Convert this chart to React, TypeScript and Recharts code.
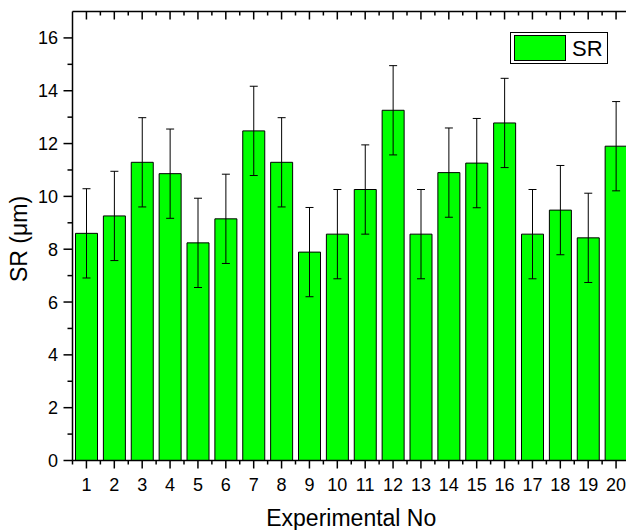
import React from "react";
import { Bar, BarChart, ErrorBar, Legend, XAxis, YAxis } from "recharts";

const EXPERIMENT_NO = ["1", "2", "3", "4", "5", "6", "7", "8", "9", "10", "11", "12", "13", "14", "15", "16", "17", "18", "19", "20"];
const SR = [8.6, 9.26, 11.29, 10.86, 8.24, 9.15, 12.48, 11.29, 7.89, 8.57, 10.26, 13.26, 8.57, 10.9, 11.26, 12.78, 8.57, 9.48, 8.43, 11.9];
const SR_ERR = [1.69, 1.69, 1.69, 1.69, 1.69, 1.69, 1.69, 1.69, 1.69, 1.69, 1.69, 1.69, 1.69, 1.69, 1.69, 1.69, 1.69, 1.69, 1.69, 1.69];
const Y_TICKS = [0, 1, 2, 3, 4, 5, 6, 7, 8, 9, 10, 11, 12, 13, 14, 15, 16];
const Y_DOMAIN: [number, number] = [0, 17];

const data = EXPERIMENT_NO.map((no, i) => ({ no, sr: SR[i], err: SR_ERR[i] }));

const FONT = '"Liberation Sans", Arial, sans-serif';
const CHART_W = 640;
const CHART_H = 530;
const LEFT = 72.5;
const RIGHT_W = 10;
const TOP = 11.5;
const BOTTOM_H = 69.5;
const BAND = (CHART_W - RIGHT_W - LEFT) / EXPERIMENT_NO.length;
const AXIS = { stroke: "#000", strokeWidth: 1.5 };

// left axis: outward ticks, labels on even values
function LeftTick({ x, y, payload }: any) {
  const major = payload.value % 2 === 0;
  return (
    <g>
      <line x1={x - (major ? 9 : 5)} x2={x} y1={y} y2={y} stroke="#000" strokeWidth={1.5} />
      {major && (
        <text x={x - 14.5} y={y} dy="0.36em" textAnchor="end" fontSize={18} fontFamily={FONT} fill="#000">
          {payload.value}
        </text>
      )}
    </g>
  );
}

// right axis: inward ticks, no labels
function RightTick({ x, y, payload }: any) {
  const major = payload.value % 2 === 0;
  return <line x1={x} x2={x - (major ? 9 : 5)} y1={y} y2={y} stroke="#000" strokeWidth={1.5} />;
}

function BottomTick({ x, y, payload, index }: any) {
  return (
    <g>
      <line x1={x} x2={x} y1={y} y2={y + 8} stroke="#000" strokeWidth={1.5} />
      <line x1={x + BAND / 2} x2={x + BAND / 2} y1={y} y2={y + 4} stroke="#000" strokeWidth={1.5} />
      {index === 0 && <line x1={x - BAND / 2} x2={x - BAND / 2} y1={y} y2={y + 4} stroke="#000" strokeWidth={1.5} />}
      <text x={x} y={y + 30} textAnchor="middle" fontSize={18} fontFamily={FONT} fill="#000">
        {payload.value}
      </text>
    </g>
  );
}

function TopTick({ x, y }: any) {
  return (
    <g>
      <line x1={x} x2={x} y1={y} y2={y + 8} stroke="#000" strokeWidth={1.5} />
      <line x1={x + BAND / 2} x2={x + BAND / 2} y1={y} y2={y + 4} stroke="#000" strokeWidth={1.5} />
    </g>
  );
}

function YTitle({ viewBox }: any) {
  const cx = 27;
  const cy = viewBox.y + viewBox.height / 2 + 3;
  return (
    <text x={cx} y={cy} transform={`rotate(-90 ${cx} ${cy})`} textAnchor="middle" fontSize={23} fontFamily={FONT} fill="#000">
      SR (μm)
    </text>
  );
}

function LegendBox() {
  return (
    <svg width={98} height={32} style={{ display: "block" }}>
      <rect x={0.5} y={0.5} width={97} height={31} fill="#fff" stroke="#000" strokeWidth={1} />
      <rect x={4.5} y={3.5} width={51} height={25} fill="#00ff00" stroke="#000" strokeWidth={1} />
      <text x={62} y={24} fontSize={22} fontFamily={FONT} fill="#000">
        SR
      </text>
    </svg>
  );
}

export default function App() {
  return (
    <div style={{ width: 626, height: 530, overflow: "hidden", position: "relative", background: "#fff" }}>
      <style>{"body{margin:0}"}</style>
      <BarChart width={CHART_W} height={CHART_H} data={data} margin={{ top: 0, right: 0, bottom: 0, left: 0 }} barSize={22}>
        <XAxis
          dataKey="no"
          height={BOTTOM_H}
          axisLine={AXIS}
          tickLine={false}
          tickSize={0}
          tickMargin={0}
          interval={0}
          tick={<BottomTick />}
          label={{ value: "Experimental No", position: "insideBottom", offset: 4, fontSize: 23, fill: "#000", fontFamily: FONT }}
        />
        <XAxis
          xAxisId="t"
          dataKey="no"
          orientation="top"
          height={TOP}
          axisLine={AXIS}
          tickLine={false}
          tickSize={0}
          tickMargin={0}
          interval={0}
          tick={<TopTick />}
        />
        <YAxis
          type="number"
          domain={Y_DOMAIN}
          ticks={Y_TICKS}
          interval={0}
          width={LEFT}
          axisLine={AXIS}
          tickLine={false}
          tickSize={0}
          tickMargin={0}
          tick={<LeftTick />}
          label={<YTitle />}
        />
        <YAxis
          yAxisId="r"
          orientation="right"
          type="number"
          domain={Y_DOMAIN}
          ticks={Y_TICKS}
          interval={0}
          width={RIGHT_W}
          axisLine={AXIS}
          tickLine={false}
          tickSize={0}
          tickMargin={0}
          tick={<RightTick />}
        />
        <Legend
          layout="horizontal"
          verticalAlign="middle"
          align="center"
          wrapperStyle={{ left: 510, top: 32, width: 98, height: 32 }}
          content={() => <LegendBox />}
        />
        <Bar dataKey="sr" name="SR" fill="#00ff00" stroke="#000" strokeWidth={1} isAnimationActive={false}>
          <ErrorBar dataKey="err" width={4} stroke="#000" strokeWidth={1} direction="y" />
        </Bar>
      </BarChart>
    </div>
  );
}
